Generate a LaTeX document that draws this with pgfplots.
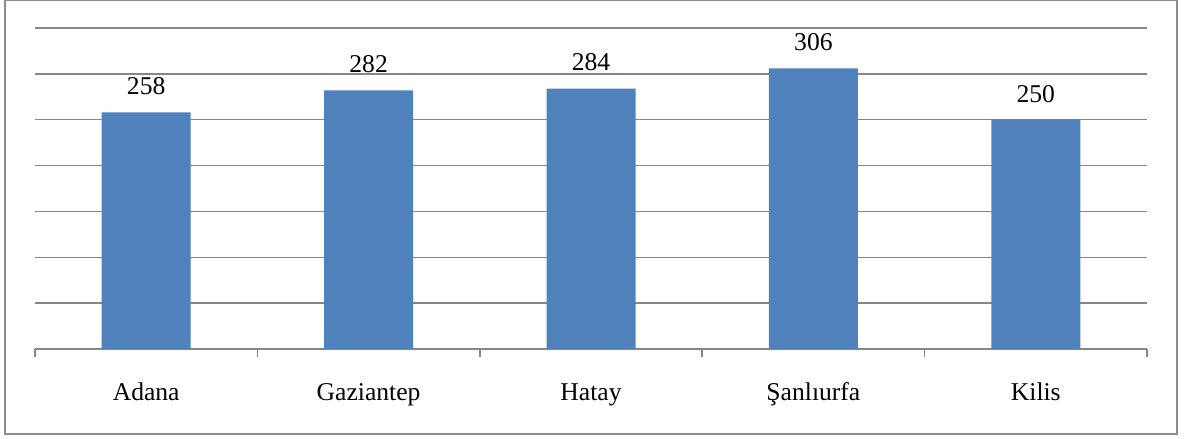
\documentclass[border=0pt]{standalone}
\usepackage{pgfplots}
\pgfplotsset{compat=1.18}
\usepackage{fontspec}
\setmainfont{Liberation Serif}
\definecolor{barblue}{HTML}{4F81BD}
\definecolor{gridgray}{HTML}{868686}
\definecolor{framegray}{HTML}{8C8C8C}
\begin{document}
\begin{tikzpicture}
\useasboundingbox (0,0) rectangle (592.5pt,219.5pt);
\draw[framegray, line width=1pt] (2.25pt,2.5pt) rectangle (588.5pt,219.25pt);
\begin{axis}[
  at={(17.5pt,45pt)}, anchor=south west,
  scale only axis, width=556pt, height=160.5pt,
  xmin=-0.5, xmax=4.5, ymin=0, ymax=350,
  /pgf/number format/assume math mode=true,
  axis line style={draw=none},
  ytick={0,50,...,350}, yticklabels={},
  ymajorgrids, grid style={gridgray, line width=0.75pt},
  major tick length=0pt,
  xtick={0,1,2,3,4},
  xticklabels={Adana,Gaziantep,Hatay,Şanlıurfa,Kilis},
  minor xtick={-0.5,0.5,1.5,2.5,3.5,4.5},
  minor tick length=4pt,
  tick align=outside, xtick pos=bottom, ytick pos=left,
  minor tick style={gridgray, line width=0.75pt},
  xticklabel style={font=\fontsize{12.8}{15}\selectfont, anchor=base, yshift=-26pt},
  ybar, bar width=44.5pt,
  nodes near coords,
  nodes near coords style={font=\fontsize{12.8}{15}\selectfont, anchor=south, inner sep=0pt, yshift=8.5pt},
  clip=false,
]
\addplot[fill=barblue, draw=none] coordinates {(0,258) (1,282) (2,284) (3,306) (4,250)};
\end{axis}
\end{tikzpicture}
\end{document}
